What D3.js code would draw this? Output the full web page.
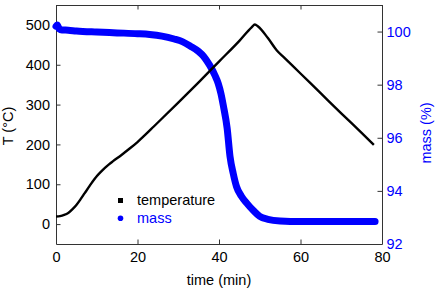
<!DOCTYPE html>
<html>
<head>
<meta charset="utf-8">
<script src="https://cdn.jsdelivr.net/npm/d3@7"></script>
<style>
    body { margin: 0; background: #fff; }
    svg text { font-family: "Liberation Sans", Arial, sans-serif; font-size: 14.5px; }
</style>
</head>
<body>
<script>
(function(){

    //temperature readings (time in min, T in degC)
    var tempTime = [0, 1, 2, 3, 4, 5, 6, 7, 8, 9, 10, 11, 12, 13, 14, 16, 18, 20, 22, 24, 30, 35, 40, 45, 48, 48.8, 49.6, 52, 54.2, 56, 60, 65, 70, 75, 78];
    var tempValue = [19, 20, 23, 28, 37, 48, 62, 77, 92, 107, 120, 131, 141, 150, 158, 173, 189, 206, 225, 245, 305, 356, 408, 460, 494, 501, 496, 467, 436, 418, 378, 328, 278, 229, 199];

    //mass readings (time in min, mass in %)
    var massTime = [0, 0.3, 0.8, 1.5, 3, 5, 10, 15, 20, 23, 26, 29, 31, 33, 35, 36.2, 37, 38.2, 39, 39.8, 40.5, 41.1, 42, 42.7, 43.5, 44.3, 45.5, 46.8, 48.5, 50, 52, 55, 60, 70, 78.3];
    var massValue = [100.2, 100.25, 100.1, 100.06, 100.05, 100.02, 99.98, 99.95, 99.92, 99.89, 99.83, 99.72, 99.62, 99.45, 99.25, 99.07, 98.9, 98.6, 98.35, 98.05, 97.65, 97.18, 96.36, 95.3, 94.65, 94.16, 93.8, 93.54, 93.25, 93.04, 92.93, 92.87, 92.85, 92.85, 92.85];

    //tick values
    var xTicks = [0, 20, 40, 60, 80],
        xMinor = [10, 30, 50, 70],
        tTicks = [0, 100, 200, 300, 400, 500],
        tMinor = [-50, 50, 150, 250, 350, 450],
        mTicks = [92, 94, 96, 98, 100],
        mMinor = [93, 95, 97, 99];

    var width = 436, height = 292;
    var left = 56, right = 382, top = 5, bottom = 244;
    var axisColor = "#333", blue = "#0000ff";

    var svg = d3.select("body").append("svg")
        .attr("width", width)
        .attr("height", height);

    var x = d3.scaleLinear().domain([0, 80]).range([left, right]);
    var yT = d3.scaleLinear().domain([-50, 550]).range([bottom, top]);
    var yM = d3.scaleLinear().domain([92, 101]).range([bottom, top]);

    //draw one axis with major + minor inward ticks
    function drawAxis(axisFn, scale, major, minor, translate, padding, fmt, color) {
        var g = svg.append("g").attr("transform", translate);
        g.call(axisFn(scale).tickValues(minor).tickSize(-2.5).tickSizeOuter(0).tickFormat(""));
        g.call(axisFn(scale).tickValues(major).tickSize(-4.5).tickSizeOuter(0).tickPadding(padding).tickFormat(fmt));
        g.selectAll("path, line").attr("stroke", axisColor);
        g.selectAll("text").attr("fill", color).style("font-size", "14.5px");
        return g;
    }

    drawAxis(d3.axisBottom, x, xTicks, xMinor, "translate(0," + bottom + ")", 8, d3.format("d"), "#000");
    drawAxis(d3.axisTop, x, xTicks, xMinor, "translate(0," + top + ")", 0, "", "#000");
    drawAxis(d3.axisLeft, yT, tTicks, tMinor, "translate(" + left + ",0)", 6, d3.format("d"), "#000");
    drawAxis(d3.axisRight, yM, mTicks, mMinor, "translate(" + right + ",0)", 4.5, d3.format("d"), blue);

    //mass curve (thick, dense markers in the original)
    var massData = massTime.map(function(t, i) { return [t, massValue[i]]; });
    svg.append("path")
        .datum(massData)
        .attr("fill", "none")
        .attr("stroke", blue)
        .attr("stroke-width", 7)
        .attr("stroke-linecap", "round")
        .attr("stroke-linejoin", "round")
        .attr("d", d3.line()
            .curve(d3.curveMonotoneX)
            .x(function(d) { return x(d[0]); })
            .y(function(d) { return yM(d[1]); }));

    //temperature curve
    var tempData = tempTime.map(function(t, i) { return [t, tempValue[i]]; });
    svg.append("path")
        .datum(tempData)
        .attr("fill", "none")
        .attr("stroke", "#000")
        .attr("stroke-width", 2.4)
        .attr("stroke-linejoin", "round")
        .attr("d", d3.line()
            .curve(d3.curveMonotoneX)
            .x(function(d) { return x(d[0]); })
            .y(function(d) { return yT(d[1]); }));

    //axis titles
    svg.append("text")
        .attr("x", (left + right) / 2)
        .attr("y", 285)
        .attr("text-anchor", "middle")
        .text("time (min)");

    svg.append("text")
        .attr("transform", "translate(13,126) rotate(-90)")
        .attr("text-anchor", "middle")
        .text("T (°C)");

    svg.append("text")
        .attr("transform", "translate(431,133) rotate(-90)")
        .attr("text-anchor", "middle")
        .attr("fill", blue)
        .text("mass (%)");

    //legend
    var legend = svg.append("g");
    legend.append("rect")
        .attr("x", 118)
        .attr("y", 198)
        .attr("width", 5)
        .attr("height", 5)
        .attr("fill", "#000");
    legend.append("text")
        .attr("x", 137)
        .attr("y", 205)
        .text("temperature");
    legend.append("circle")
        .attr("cx", 120.5)
        .attr("cy", 218.3)
        .attr("r", 2.8)
        .attr("fill", blue);
    legend.append("text")
        .attr("x", 137)
        .attr("y", 222.5)
        .attr("fill", blue)
        .text("mass");
})();
</script>
</body>
</html>
